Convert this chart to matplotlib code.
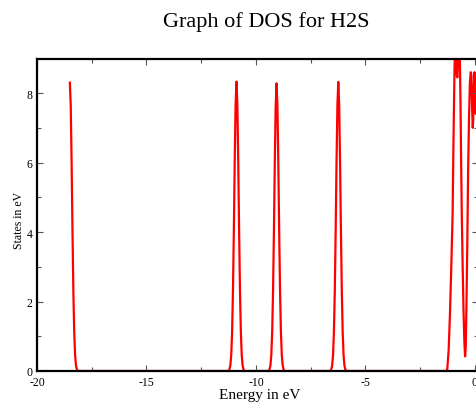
import matplotlib
matplotlib.use("Agg")
import matplotlib.pyplot as plt
from matplotlib.ticker import MultipleLocator

plt.rcParams['font.family'] = ['Liberation Serif', 'DejaVu Serif']

# ---- data ----
peak1_e = [-18.50, -18.46, -18.42, -18.38, -18.34, -18.30, -18.26, -18.22, -18.18, -18.14]
peak1_dos = [8.30, 7.66, 6.03, 4.04, 2.31, 1.12, 0.46, 0.16, 0.05, 0.0]

peak2_e = [-11.25, -11.21, -11.17, -11.13, -11.09, -11.05, -11.01, -10.97, -10.93, -10.89,
           -10.85, -10.81, -10.77, -10.73, -10.69, -10.65, -10.61, -10.57, -10.53]
peak2_dos = [0.0, 0.05, 0.16, 0.46, 1.12, 2.32, 4.05, 6.05, 7.68, 8.33,
             7.68, 6.05, 4.05, 2.32, 1.12, 0.46, 0.16, 0.05, 0.0]

peak3_e = [-9.42, -9.38, -9.34, -9.30, -9.26, -9.22, -9.18, -9.14, -9.10, -9.06,
           -9.02, -8.98, -8.94, -8.90, -8.86, -8.82, -8.78, -8.74, -8.70]
peak3_dos = [0.0, 0.05, 0.16, 0.46, 1.11, 2.30, 4.02, 6.01, 7.63, 8.28,
             7.63, 6.01, 4.02, 2.30, 1.11, 0.46, 0.16, 0.05, 0.0]

peak4_e = [-6.60, -6.56, -6.52, -6.48, -6.44, -6.40, -6.36, -6.32, -6.28, -6.24,
           -6.20, -6.16, -6.12, -6.08, -6.04, -6.00, -5.96, -5.92, -5.88]
peak4_dos = [0.0, 0.05, 0.16, 0.46, 1.12, 2.31, 4.04, 6.04, 7.67, 8.32,
             7.67, 6.04, 4.04, 2.31, 1.12, 0.46, 0.16, 0.05, 0.0]

band_e = [-1.30, -1.27, -1.20, -1.14, -1.08, -1.02, -0.99, -0.96, -0.93, -0.90,
          -0.86, -0.83, -0.80, -0.77, -0.73, -0.69, -0.66, -0.63, -0.60, -0.56,
          -0.52, -0.48, -0.45, -0.42, -0.39, -0.35, -0.31, -0.27, -0.23, -0.19,
          -0.16, -0.13, -0.10, -0.08, -0.05, -0.02, 0.01, 0.04, 0.07, 0.10, 0.14]
band_dos = [0.0, 0.0, 0.6, 1.64, 3.0, 4.5, 6.1, 7.5, 8.8, 9.3,
            9.1, 8.5, 8.45, 9.0, 9.3, 9.0, 7.8, 6.0, 4.5, 3.0,
            1.7, 0.8, 0.42, 0.7, 1.8, 3.6, 5.8, 7.3, 8.3, 8.6,
            8.5, 7.6, 7.0, 7.2, 8.2, 8.6, 8.0, 7.4, 7.9, 8.2, 8.0]

energy = peak1_e + peak2_e + peak3_e + peak4_e + band_e
dos = peak1_dos + peak2_dos + peak3_dos + peak4_dos + band_dos

title = "Graph of DOS for H2S"
xlabel = "Energy in eV"
ylabel = "States in eV"
xticks = [-20, -15, -10, -5, 0]
yticks = [0, 2, 4, 6, 8]

# ---- figure ----
W, H = 477, 410
fig = plt.figure(figsize=(W / 100, H / 100), dpi=100)
L, R, T, B = 37, 478, 60, 372
ax = fig.add_axes([L / W, 1 - B / H, (R - L) / W, (B - T) / H])

ax.plot(energy, dos, color='#ff0000', linewidth=1.6, zorder=1)
ax.set_xlim(-20, 0.14)
ax.set_ylim(0, 8.98)

ax.set_xticks(xticks)
ax.set_xticklabels([str(t) for t in xticks])
ax.set_yticks(yticks)
ax.set_yticklabels([str(t) for t in yticks])
ax.xaxis.set_minor_locator(MultipleLocator(2.5))
ax.yaxis.set_minor_locator(MultipleLocator(1))
ax.tick_params(which='both', direction='in', top=True, right=True,
               color='#555555', width=0.8, labelsize=8.5)
ax.tick_params(which='major', length=4.5)
ax.tick_params(axis='x', which='major', pad=3.5)
ax.tick_params(axis='y', which='major', pad=3)
ax.tick_params(which='minor', length=3)
for s in ax.spines.values():
    s.set_linewidth(1.6)
    s.set_zorder(3)

fig.text(19 / W, 1 - 220 / H, ylabel, rotation=90, ha='center', va='center', fontsize=8.5)
fig.text(260 / W, 1 - 396 / H, xlabel, ha='center', va='center', fontsize=11)
fig.text(266.5 / W, 1 - 22 / H, title, ha='center', va='center', fontsize=16)

fig.savefig('out.png', dpi=100)
